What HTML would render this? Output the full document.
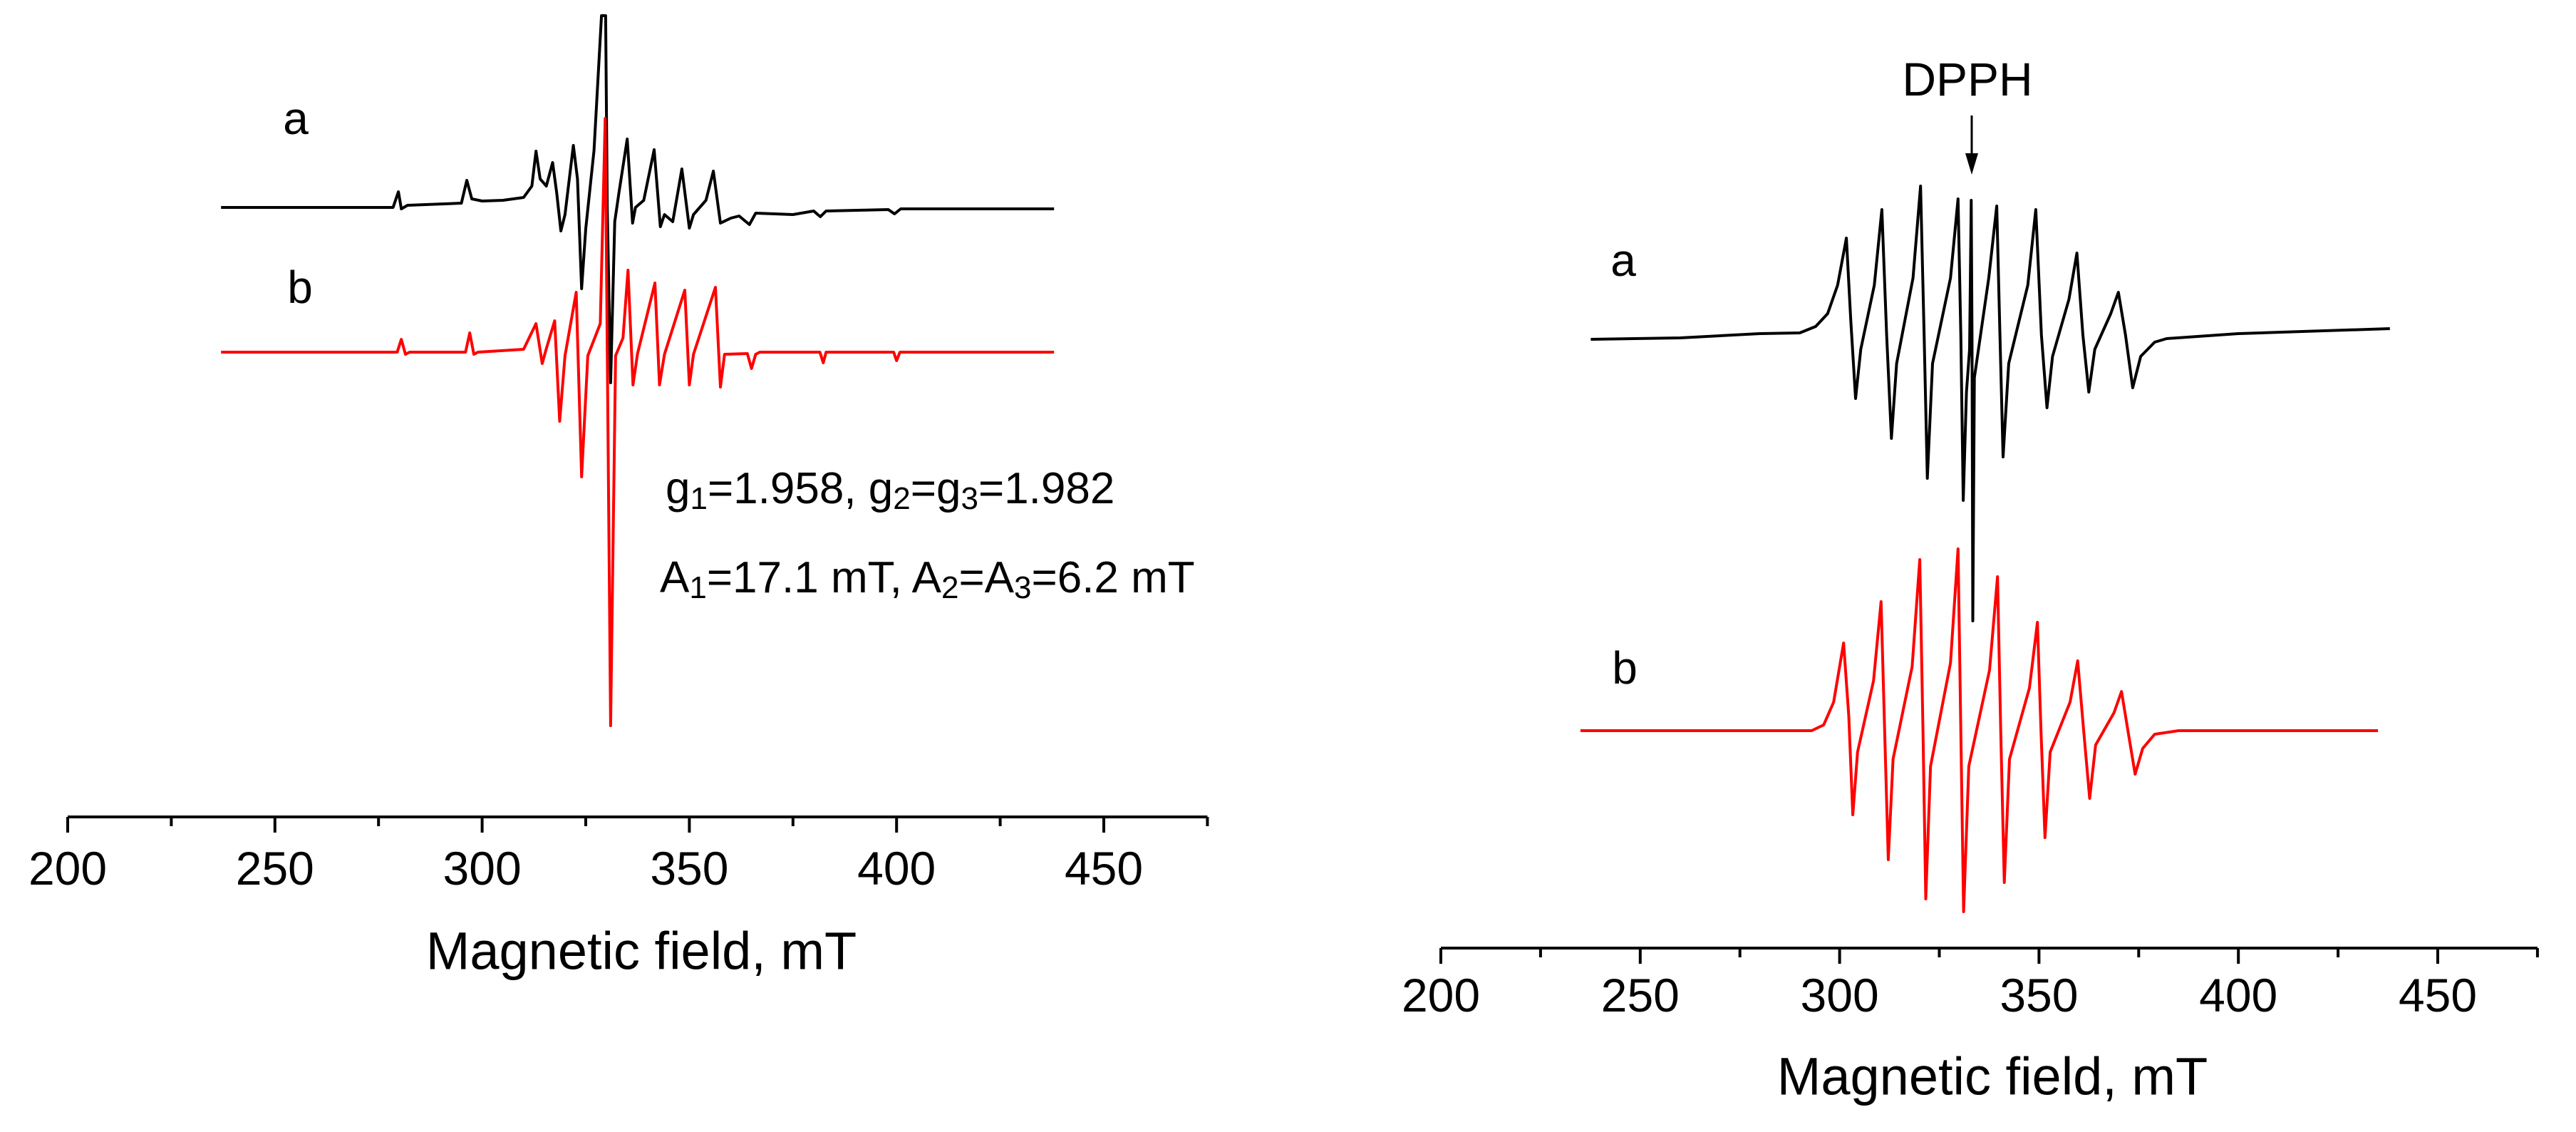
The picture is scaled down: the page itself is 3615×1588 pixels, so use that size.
<!DOCTYPE html>
<html><head><meta charset="utf-8"><style>
html,body{margin:0;padding:0;background:#fff;}
svg{display:block;font-family:"Liberation Sans",Arial,sans-serif;}
</style></head><body>
<svg id="s" width="3615" height="1588" viewBox="0 0 3615 1588">
<g id="left"></g>
<g id="right"></g>
</svg>
<script>
// ---- data ----
const ticks = [200,250,300,350,400,450];
const minorTicks = [225,275,325,375,425,475];
// left panel, spectrum a (experimental) key points: field (mT), intensity (a.u.)
const leftAField = [237,278.5,279.8,280.5,282,295,296.3,297.5,300,305,310,312,313,314,315.5,317,318,319,320,322,323,324,325,327,328.8,329.8,330.2,331,332,333,335,336.3,337,339,341.5,343,344,346,348.2,350,351,354,355.8,357.5,360,362,364.5,366,375,380,381.6,383,398,399.5,401,438];
const leftAInt = [0,0,22,-2,3,6,38,12,9,10,14,30,79,40,30,63,20,-33,-10,87,40,-114,-30,80,269,269,0,-246,-20,20,96,-22,0,10,81,-27,-10,-20,54,-29,-10,10,51,-22,-15,-12,-24,-8,-10,-5,-13,-5,-3,-9,-2,-2];
// left panel, spectrum b (simulated)
const leftBField = [237,279.5,280.5,281.5,282.5,296,297,298,299,310,313,314.5,315.5,317.5,318.7,320,322.7,324,325.5,328.5,329.7,331,332.2,334,335.2,336.4,337.5,341.7,342.8,344,348.9,350,351,356.3,357.5,358.5,364,365,366,367,381.5,382.3,383,399.3,400,400.8,438];
const leftBInt = [0,0,18,-3,0,0,27,-3,0,4,40,-16,5,44,-97,-5,84,-175,-5,40,328,-524,-5,20,115,-46,-2,97,-46,-3,87,-46,-3,91,-49,-3,-2,-23,-3,0,0,-15,0,0,-12,0,0];
// right panel, spectrum a (experimental, with DPPH)
const rightAField = [237.6,260,280,290,294,297,299.5,301.7,302.8,304,305.3,308.7,310.6,311.8,313,314.3,318.4,320.3,321.2,322,323.3,327.8,329.7,330.4,331,331.8,332.6,333,333.2,333.4,333.8,337.4,339.4,340.2,341,342.4,347.2,349.2,350.6,352,353.4,357.5,359.5,361,362.5,364,368,369.9,371.7,373.5,375.5,379,382,400,438];
const rightAInt = [-6,-4,2,3,12,30,70,136,20,-89,-20,70,176,0,-145,-40,80,209,0,-201,-40,80,191,0,-232,-80,-20,189,0,-401,-60,80,181,0,-171,-40,70,176,0,-102,-30,50,115,0,-80,-20,30,60,0,-74,-30,-10,-5,2,9];
// right panel, spectrum b (simulated)
const rightBField = [235,293,296,298.5,301,302.3,303.3,304.5,308.5,310.4,311.3,312.2,313.4,318.2,320.1,320.9,321.6,322.8,327.8,329.7,330.4,331.1,332.4,337.6,339.6,340.4,341.3,342.6,347.6,349.6,350.5,351.5,352.8,357.8,359.7,361.2,362.7,364.2,368.8,370.7,372.3,374.1,376,379,385,435];
const rightBInt = [0,0,8,40,123,20,-118,-30,70,181,0,-181,-40,90,240,0,-236,-50,95,255,0,-254,-50,85,216,0,-213,-40,60,152,0,-150,-30,40,98,0,-95,-20,25,55,0,-61,-25,-5,0,0];

const NS="http://www.w3.org/2000/svg";
function el(tag, attrs, parent){const e=document.createElementNS(NS,tag);for(const k in attrs)e.setAttribute(k,attrs[k]);parent.appendChild(e);return e;}

function panel(g, x0, x1, axisY, lblY, titleX, titleY, fontTick, fontTitle){
  const xs = f => x0 + (f-200)*(x1-x0)/250;
  const ax = el('line',{x1:xs(200),y1:axisY,x2:xs(475),y2:axisY,stroke:'#000','stroke-width':4},g);
  
  
  ticks.forEach(t=>{
    const l=el('line',{x1:xs(t),y1:axisY,x2:xs(t),y2:axisY+22,stroke:'#000','stroke-width':4},g);
    
    
    const tx=el('text',{x:xs(t),y:lblY,'font-size':fontTick,'text-anchor':'middle','dominant-baseline':'central',fill:'#000'},g);
    tx.textContent=t;
    
    
  });
  minorTicks.forEach(t=>{
    const l=el('line',{x1:xs(t),y1:axisY,x2:xs(t),y2:axisY+13,stroke:'#000','stroke-width':4},g);
    
    
  });
  const ti=el('text',{x:titleX,y:titleY,'font-size':fontTitle,'text-anchor':'middle','dominant-baseline':'central',fill:'#000'},g);
  ti.textContent='Magnetic field, mT';
  
  
  return xs;
}
function trace(g, xs, base, fields, ints, color, name){
  const pts = fields.map((f,i)=>xs(f).toFixed(1)+','+(base-ints[i]).toFixed(1)).join(' ');
  const p=el('polyline',{points:pts,fill:'none',stroke:color,'stroke-width':4,'stroke-linejoin':'round'},g);
  
  
}
function label(g,x,y,txt,size,name){
  const t=el('text',{x:x,y:y,'font-size':size,'text-anchor':'middle','dominant-baseline':'central',fill:'#000'},g);
  t.textContent=txt;
  
  
  return t;
}

const L=document.getElementById('left');
const xl=panel(L,95,1549,1146,1218,900,1334,66,74);
trace(L,xl,291,leftAField,leftAInt,'#000','spectrum-a-experimental');
trace(L,xl,494,leftBField,leftBInt,'#ff0000','spectrum-b-simulated');
label(L,415,166,'a',64,'label-a');
label(L,421,403,'b',64,'label-b');
const g1=el('text',{x:934,y:685,'font-size':62,'dominant-baseline':'central',fill:'#000'},L);
g1.innerHTML='g<tspan font-size="44" dy="14">1</tspan><tspan dy="-14">=1.958, g</tspan><tspan font-size="44" dy="14">2</tspan><tspan dy="-14">=g</tspan><tspan font-size="44" dy="14">3</tspan><tspan dy="-14">=1.982</tspan>';


const a1=el('text',{x:926,y:810,'font-size':62,'dominant-baseline':'central',fill:'#000'},L);
a1.innerHTML='A<tspan font-size="44" dy="14">1</tspan><tspan dy="-14">=17.1 mT, A</tspan><tspan font-size="44" dy="14">2</tspan><tspan dy="-14">=A</tspan><tspan font-size="44" dy="14">3</tspan><tspan dy="-14">=6.2 mT</tspan>';



const R=document.getElementById('right');
const xr=panel(R,2022,3421,1330,1396,2796,1510,66,74);
trace(R,xr,470,rightAField,rightAInt,'#000','spectrum-a-experimental');
trace(R,xr,1025,rightBField,rightBInt,'#ff0000','spectrum-b-simulated');
label(R,2278,365,'a',64,'label-a');
label(R,2280,937,'b',64,'label-b');
label(R,2761,111,'DPPH',66,'dpph-label');
const ar=el('line',{x1:2767,y1:162,x2:2767,y2:225,stroke:'#000','stroke-width':3},R);


const ah=el('polygon',{points:'2758,215 2776,215 2767,245',fill:'#000'},R);


</script>
</body></html>
